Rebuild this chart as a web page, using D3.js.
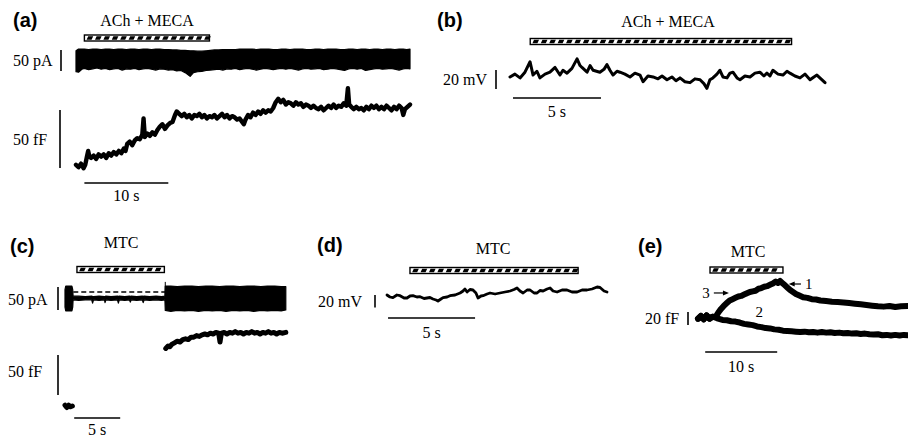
<!DOCTYPE html>
<html><head><meta charset="utf-8">
<script src="https://cdn.jsdelivr.net/npm/d3@7"></script>
<style>
body{margin:0;background:#fff}
svg{display:block}
text{font-family:"Liberation Serif","Times New Roman",serif;font-size:16px;fill:#000}
text.pl{font-family:"Liberation Sans",Arial,sans-serif;font-weight:bold;font-size:20px}
</style>
</head><body>
<svg id="fig" width="908" height="440"></svg>
<script>
// ---------------- DATA ----------------
const panelLabels = ["(a)", "(b)", "(c)", "(d)", "(e)"];
const drugNames = ["ACh + MECA", "ACh + MECA", "MTC", "MTC", "MTC"];
// drug application windows (s)
const aDrug = [1.0, 15.9];
const bDrug = [1.15, 16.0];
const cDrug = [1.3, 10.8];
const dDrug = [1.32, 10.98];
const eDrug = [1.67, 11.8];
// scale bars
const ampBars = [
  {panel: "a", value: 50, unit: "pA"}, {panel: "a", value: 50, unit: "fF"},
  {panel: "b", value: 20, unit: "mV"}, {panel: "c", value: 50, unit: "pA"},
  {panel: "c", value: 50, unit: "fF"}, {panel: "d", value: 20, unit: "mV"},
  {panel: "e", value: 20, unit: "fF"}
];
const timeBars = [
  {panel: "a", t0: 1, len: 10}, {panel: "b", t0: 0.17, len: 5},
  {panel: "c", t0: 1, len: 5}, {panel: "d", t0: 0.06, len: 5},
  {panel: "e", t0: 1, len: 10}
];

// (a) membrane current envelope [t s, top pA, bottom pA]
const aCurrent = [
  [0,22,-28],[0.3,26,-29],[0.7,26,-22],[1,26,-20],[1.5,25,-23],[2,26,-21],[2.5,26,-19],[3,25,-22],
  [3.5,26,-20],[4,26,-23],[4.5,25,-21],[5,26,-20],[5.5,26,-24],[6,25,-21],[6.5,26,-22],[7,26,-20],
  [7.5,25,-23],[8,26,-21],[8.5,26,-20],[9,25,-22],[9.5,26,-24],[10,26,-21],[10.5,25,-22],[11,25,-24],
  [11.5,24,-23],[12,24,-26],[12.5,23,-25],[13,23,-30],[13.6,22,-39],[14,22,-30],[14.5,21,-28],[15,21,-27],
  [15.5,22,-25],[16,23,-24],[16.5,24,-23],[17,24,-22],[17.5,25,-24],[18,25,-21],[18.5,25,-22],[19,25,-20],
  [19.5,26,-23],[20,26,-21],[20.5,26,-20],[21,26,-22],[21.5,25,-24],[22,26,-22],[22.5,26,-20],[23,26,-21],
  [23.5,25,-23],[24,25,-21],[24.5,26,-20],[25,26,-22],[25.5,25,-20],[26,26,-22],[26.5,26,-24],[27,26,-21],
  [27.5,25,-20],[28,25,-22],[28.5,26,-21],[29,26,-20],[29.5,25,-23],[30,26,-22],[30.5,26,-20],[31,26,-21],
  [31.5,25,-23],[32,25,-25],[32.5,26,-21],[33,26,-20],[33.5,25,-22],[34,26,-20],[34.5,26,-25],[35,25,-23],
  [35.5,26,-21],[36,26,-20],[36.5,25,-22],[37,26,-21],[37.5,26,-20],[38,25,-22],[38.5,26,-24],[39,26,-21],
  [39.4,25,-20],[39.8,26,-21]
];
// (a) membrane capacitance [t s, fF]
const aCap = [
  [0,1],[0.3,-1],[0.6,2],[0.9,-2],[1.1,1],[1.3,8],[1.45,13],[1.6,8],[1.8,7],[2.1,9],[2.4,6],[2.7,10],[3,8],
  [3.3,10],[3.6,7],[3.9,11],[4.2,9],[4.5,12],[4.8,10],[5.1,13],[5.4,11],[5.7,15],[5.9,13],[6.1,19],[6.4,21],
  [6.7,18],[7.0,22],[7.3,24],[7.6,23],[7.9,27],[8.05,41],[8.2,25],[8.5,28],[8.8,26],[9.1,29],[9.4,27],
  [9.7,31],[10.0,34],[10.3,36],[10.6,32],[10.9,35],[11.2,37],[11.5,38],[11.8,44],[12.0,47],[12.3,45],
  [12.6,43],[12.9,45],[13.2,42],[13.5,44],[13.8,41],[14.1,44],[14.4,43],[14.7,45],[15,42],[15.3,44],
  [15.6,41],[15.9,43],[16.2,42],[16.5,44],[16.8,41],[17.1,43],[17.4,45],[17.7,42],[18.0,44],[18.3,41],
  [18.6,43],[18.9,42],[19.2,40],[19.5,41],[19.8,38],[20.0,36],[20.2,40],[20.5,44],[20.8,42],[21.1,46],
  [21.4,44],[21.7,47],[22.0,45],[22.3,48],[22.6,46],[22.9,48],[23.2,47],[23.5,50],[23.8,55],[24.1,58],
  [24.4,55],[24.7,57],[25.0,53],[25.3,55],[25.6,54],[25.9,52],[26.2,55],[26.5,53],[26.8,54],[27.1,51],
  [27.4,53],[27.7,52],[28.0,50],[28.3,52],[28.6,50],[28.9,49],[29.2,51],[29.5,48],[29.8,50],[30.1,52],
  [30.4,50],[30.7,53],[31.0,50],[31.3,52],[31.6,51],[31.9,54],[32.2,52],[32.4,67],[32.55,53],[32.8,51],
  [33.1,49],[33.4,51],[33.7,49],[34.0,50],[34.3,48],[34.6,51],[34.9,49],[35.2,52],[35.5,50],[35.8,52],
  [36.1,49],[36.4,51],[36.7,49],[37.0,52],[37.3,50],[37.6,48],[37.9,51],[38.2,49],[38.5,52],[38.8,50],
  [39.0,44],[39.2,49],[39.5,51],[39.8,53]
];
// (b) membrane potential [t s, mV]
const bVm = [
  [0,-1],[0.28,2],[0.57,-2],[0.85,4],[1.14,15],[1.31,1],[1.53,5],[1.70,-2],[1.99,2],[2.27,4],[2.56,9],
  [2.84,1],[3.01,6],[3.24,3],[3.52,8],[3.81,18],[3.98,11],[4.09,9],[4.38,4],[4.55,11],[4.72,6],[5.11,4],
  [5.34,7],[5.51,12],[5.68,6],[5.85,1],[6.08,5],[6.25,4],[6.53,2],[6.82,-1],[7.10,3],[7.39,1],[7.56,-6],
  [7.84,0],[8.13,-1],[8.41,-3],[8.64,0],[8.92,-4],[9.20,-1],[9.43,-5],[9.66,-2],[9.94,-6],[10.23,-7],
  [10.51,-3],[10.80,-4],[11.02,-8],[11.19,-13],[11.36,-4],[11.53,-2],[11.76,2],[11.93,6],[12.10,-1],
  [12.33,-2],[12.50,3],[12.67,4],[12.90,-2],[13.07,-4],[13.35,0],[13.64,-1],[13.92,3],[14.20,4],
  [14.43,0],[14.60,3],[14.77,0],[14.94,6],[15.23,2],[15.51,1],[15.74,5],[15.91,3],[16.19,0],[16.48,-2],
  [16.76,2],[17.05,-4],[17.27,-1],[17.44,1],[17.67,-3],[17.90,-7]
];
// (c) membrane current envelope [t s, top pA, bottom pA]
const cCurrent = [
  [0,18,-20],[0.08,26,-28],[0.75,26,-28],[0.84,18,-20],[0.88,4,-4],[1.5,4,-5],[2.2,3,-4],[2.9,4,-4],
  [3.0,3,-11],[3.1,3,-4],[3.7,4,-5],[4.3,3,-4],[4.35,3,-10],[4.45,4,-4],[5.0,3,-5],[5.7,4,-4],[5.8,3,-11],
  [5.9,4,-4],[6.5,3,-5],[7.0,4,-4],[7.1,3,-9],[7.2,4,-4],[7.8,3,-5],[8.4,4,-4],[8.5,3,-10],[8.6,4,-4],
  [9.2,3,-5],[9.9,4,-4],[10.5,3,-5],[10.86,4,-4],[10.9,26,-27],[11.5,26,-29],[12.2,25,-27],[13,26,-28],
  [13.8,26,-27],[14.5,25,-29],[15.3,26,-27],[16,26,-28],[16.8,25,-27],[17.5,26,-29],[18.3,26,-27],
  [19,25,-28],[19.8,26,-27],[20.5,26,-29],[21.3,25,-27],[22,26,-28],[22.8,26,-27],[23.5,25,-28],[24,25,-26]
];
const cHold = 13; // pA, dashed reference level during MTC
// (c) membrane capacitance [t s, fF]
const cCapPre = [[0,1],[0.2,-2],[0.4,1],[0.6,-1],[0.8,0]];
const cCapPost = [
  [10.95,72],[11.2,75],[11.4,74],[11.6,77],[11.9,79],[12.2,81],[12.5,80],[12.8,83],[13.1,84],[13.4,83],
  [13.7,86],[14.0,86],[14.3,88],[14.6,87],[14.9,89],[15.2,90],[15.5,89],[15.8,91],[16.1,90],[16.4,92],
  [16.7,91],[16.85,80],[17.0,91],[17.3,92],[17.6,90],[17.9,92],[18.2,91],[18.5,93],[18.8,91],[19.1,92],
  [19.4,90],[19.7,92],[20.0,91],[20.3,93],[20.6,91],[20.9,92],[21.2,90],[21.5,92],[21.8,91],[22.1,93],
  [22.4,91],[22.7,92],[23.0,90],[23.3,92],[23.6,91],[24.0,92]
];
// (d) membrane potential [t s, mV]
const dVm = [
  [0,1.6],[0.17,-1.6],[0.34,-2.7],[0.57,1.6],[0.75,0.5],[0.98,-3.2],[1.15,-3.2],[1.32,0],[1.49,0.5],
  [1.72,-1.6],[1.90,-1.1],[2.13,-4],[2.30,-3.2],[2.47,-2.4],[2.64,-4.8],[2.82,-6.4],[2.93,-8],[3.10,-4.8],
  [3.22,-2.7],[3.45,-1.6],[3.62,0.5],[3.91,1.6],[4.20,4.8],[4.37,8],[4.48,11.2],[4.60,6.4],[4.77,10.4],
  [4.94,9.6],[5.11,4.8],[5.23,-3.2],[5.40,0],[5.52,0.5],[5.75,3.2],[5.92,4.8],[6.21,3.2],[6.49,4.8],
  [6.78,6.4],[7.07,8],[7.30,10.4],[7.47,12.8],[7.64,8],[7.82,4.8],[8.05,9.6],[8.22,9.6],[8.45,4.8],
  [8.62,4.8],[8.79,8.8],[8.97,8],[9.20,11.2],[9.37,12.8],[9.54,8],[9.77,6.4],[10.06,9.6],[10.34,9.6],
  [10.63,6.4],[10.92,6.4],[11.21,9.6],[11.49,9.6],[11.78,11.2],[12.07,14.4],[12.24,13.6],[12.47,8],[12.64,6.4]
];
// (e) membrane capacitance, two recordings [t s, fF]
const eCap1 = [
  [0,-1],[0.4,3],[0.8,-2],[1.2,4],[1.6,-1],[2.0,2],[2.4,1],[2.8,8],[3.2,14],[3.6,19],[4.0,23],[4.4,27],
  [4.8,29],[5.2,31],[5.6,33],[6.0,34],[6.4,36],[6.8,38],[7.2,40],[7.6,41],[8.0,42],[8.4,45],[8.8,46],
  [9.2,48],[9.6,49],[10.0,51],[10.4,53],[10.8,56],[11.1,54],[11.4,57],[11.7,54],[12.0,51],[12.4,47],
  [12.8,43],[13.2,40],[13.6,37],[14.0,35],[14.6,32],[15.2,31],[15.8,29],[16.4,28.5],[17.0,27],[17.8,26],
  [18.6,25],[19.4,24.5],[20.2,24],[21.0,23],[21.8,22],[22.6,21],[23.4,20],[24.2,19],[25.0,18],[25.8,17.5],
  [26.6,18.5],[27.4,17],[28.2,18],[29.17,18.5]
];
const eCap2 = [
  [0,-1],[0.4,3],[0.8,-2],[1.2,4],[1.6,-1],[2.0,2],[2.4,1],[2.8,-1],[3.4,-3],[4.0,-3.5],[4.6,-5],
  [5.2,-5.5],[5.8,-7],[6.4,-9],[7.0,-10],[7.6,-11],[8.2,-13],[8.8,-14],[9.4,-15.5],[10.0,-16],[10.6,-17.5],
  [11.2,-18],[11.8,-19.5],[12.4,-20],[13.0,-20.5],[13.6,-21],[14.2,-21.5],[14.8,-21],[15.4,-22],[16.0,-21.5],
  [16.6,-22.5],[17.2,-21.5],[17.8,-22.5],[18.4,-22],[19.0,-23],[19.6,-22.5],[20.2,-23.5],[20.8,-23],
  [21.4,-24],[22.0,-23.5],[22.6,-24.5],[23.2,-24],[23.8,-25],[24.4,-25.5],[25.0,-25],[25.6,-26.5],
  [26.2,-26],[26.8,-27],[27.4,-26],[28.0,-27],[28.6,-26],[29.17,-26.5]
];
// (e) markers: label, arrow tail t, arrow head t, level fF
const eMarks = [
  {label: "3", t0: 2.2, t1: 4.3, v: 38.5},
  {label: "1", t0: 14.3, t1: 12.6, v: 52.3}
];
const eNote = {label: "2", t: 8.5, v: 1.5};

// ---------------- DRAWING ----------------
const svg = d3.select("#fig");
const P = {
  a: {x: d3.scaleLinear().domain([0, 39.8]).range([76, 410]),
      pA: d3.scaleLinear().domain([0, 50]).range([60, 39]),
      fF: d3.scaleLinear().domain([0, 50]).range([166, 108])},
  b: {x: d3.scaleLinear().domain([0, 17.9]).range([510, 825]),
      mV: d3.scaleLinear().domain([0, 20]).range([76, 57])},
  c: {x: d3.scaleLinear().domain([0, 24]).range([65, 285.8]),
      pA: d3.scaleLinear().domain([0, 50]).range([298, 275]),
      fF: d3.scaleLinear().domain([0, 50]).range([406, 366])},
  d: {x: d3.scaleLinear().domain([0, 12.64]).range([387, 607]),
      mV: d3.scaleLinear().domain([0, 20]).range([296, 283.5])},
  e: {x: d3.scaleLinear().domain([0, 29.17]).range([698, 908]),
      fF: d3.scaleLinear().domain([0, 20]).range([318, 305])}
};

function txt(x, y, s, anchor, cls) {
  const t = svg.append("text").attr("x", x).attr("y", y).attr("text-anchor", anchor || "start").text(s);
  if (cls) t.attr("class", cls);
  return t;
}
function lineOf(p, ys) { return d3.line().x(d => p.x(d[0])).y(d => ys(d[1])); }
function areaOf(p, ys) { return d3.area().x(d => p.x(d[0])).y0(d => ys(d[2])).y1(d => ys(d[1])); }
function trace(path, w) {
  svg.append("path").attr("d", path).attr("fill", "none").attr("stroke", "#000")
    .attr("stroke-width", w).attr("stroke-linejoin", "round").attr("stroke-linecap", "round");
}
function band(path) {
  svg.append("path").attr("d", path).attr("fill", "#000").attr("stroke", "#000")
    .attr("stroke-width", 1.2).attr("stroke-linejoin", "round");
}
function drugBar(p, win, y) {
  const x0 = p.x(win[0]), x1 = p.x(win[1]), h = 6;
  const g = svg.append("g");
  g.append("rect").attr("x", x0).attr("y", y).attr("width", x1 - x0).attr("height", h)
    .attr("fill", "#fff").attr("stroke", "#000").attr("stroke-width", 1.4);
  const starts = d3.range(x0 + 2.2, x1 - 5, 8.4);
  g.selectAll("path.h").data(starts).join("path")
    .attr("d", s => `M${s},${y + h - 1.2}L${s + 5},${y + h - 1.2}L${s + 6.6},${y + 1.2}L${s + 1.6},${y + 1.2}Z`)
    .attr("fill", "#000");
}
function ampBar(b, x, top) {
  const ys = P[b.panel][b.unit];
  const len = ys(0) - ys(b.value);
  svg.append("line").attr("x1", x).attr("x2", x).attr("y1", top).attr("y2", top + len)
    .attr("stroke", "#000").attr("stroke-width", 1.6);
}
function timeBar(b, y) {
  const p = P[b.panel];
  svg.append("line").attr("x1", p.x(b.t0)).attr("x2", p.x(b.t0 + b.len)).attr("y1", y).attr("y2", y)
    .attr("stroke", "#000").attr("stroke-width", 1.5);
  return (p.x(b.t0) + p.x(b.t0 + b.len)) / 2;
}

// panel letters
[[13, 27], [437, 27], [10, 253], [317, 252], [638, 253]].forEach((q, i) => txt(q[0], q[1], panelLabels[i], "start", "pl"));

// drug bars + names
drugBar(P.a, aDrug, 35);
drugBar(P.b, bDrug, 38.5);
drugBar(P.c, cDrug, 266.5);
drugBar(P.d, dDrug, 267.5);
drugBar(P.e, eDrug, 267);
txt(147, 26, drugNames[0], "middle");
txt(668, 27, drugNames[1], "middle");
txt(121, 248, drugNames[2], "middle");
txt(493, 254, drugNames[3], "middle");
txt(748, 257, drugNames[4], "middle");

// amplitude scale bars + labels
const ampPos = [[61, 50, 13, 66], [60, 110, 13, 145], [496, 70, 443, 85], [58, 287, 8, 305],
                [58, 355, 8, 377], [375, 295, 318, 307], [688, 312, 645, 324]];
ampBars.forEach((b, i) => {
  const q = ampPos[i];
  ampBar(b, q[0], q[1]);
  txt(q[2], q[3], b.value + " " + b.unit);
});

// time bars + labels
const timePos = [[183, 201], [98, 117], [418, 435], [318, 338], [352, 372]];
timeBars.forEach((b, i) => {
  const cx = timeBar(b, timePos[i][0]);
  txt(cx, timePos[i][1], b.len + " s", "middle");
});

// (a)
band(areaOf(P.a, P.a.pA)(aCurrent));
trace(lineOf(P.a, P.a.fF)(aCap), 4.4);
// (b)
trace(lineOf(P.b, P.b.mV)(bVm), 3);
// (c)
band(areaOf(P.c, P.c.pA)(cCurrent));
svg.append("line").attr("x1", P.c.x(10.9)).attr("x2", P.c.x(10.9))
  .attr("y1", P.c.pA(35)).attr("y2", P.c.pA(0)).attr("stroke", "#000").attr("stroke-width", 1);
svg.append("line").attr("x1", P.c.x(0.9)).attr("x2", P.c.x(10.9))
  .attr("y1", P.c.pA(cHold)).attr("y2", P.c.pA(cHold))
  .attr("stroke", "#000").attr("stroke-width", 1.3).attr("stroke-dasharray", "5,3");
trace(lineOf(P.c, P.c.fF)(cCapPre), 5);
trace(lineOf(P.c, P.c.fF)(cCapPost), 5);
// (d)
trace(lineOf(P.d, P.d.mV)(dVm), 2.8);
// (e)
trace(lineOf(P.e, P.e.fF)(eCap2), 6);
trace(lineOf(P.e, P.e.fF)(eCap1), 6);
eMarks.forEach(m => {
  const x0 = P.e.x(m.t0), x1 = P.e.x(m.t1), y = P.e.fF(m.v), dir = Math.sign(x1 - x0);
  svg.append("line").attr("x1", x0).attr("x2", x1 - dir * 4).attr("y1", y).attr("y2", y)
    .attr("stroke", "#000").attr("stroke-width", 1.2);
  svg.append("path").attr("d", `M${x1},${y}L${x1 - dir * 6},${y - 2.5}L${x1 - dir * 6},${y + 2.5}Z`).attr("fill", "#000");
  const lx = dir > 0 ? x0 - 4 : x0 + 4;
  txt(lx, y + 5, m.label, dir > 0 ? "end" : "start").style("font-size", "15px");
});
txt(P.e.x(eNote.t), P.e.fF(eNote.v), eNote.label, "middle").style("font-size", "15px");
</script>
</body></html>
